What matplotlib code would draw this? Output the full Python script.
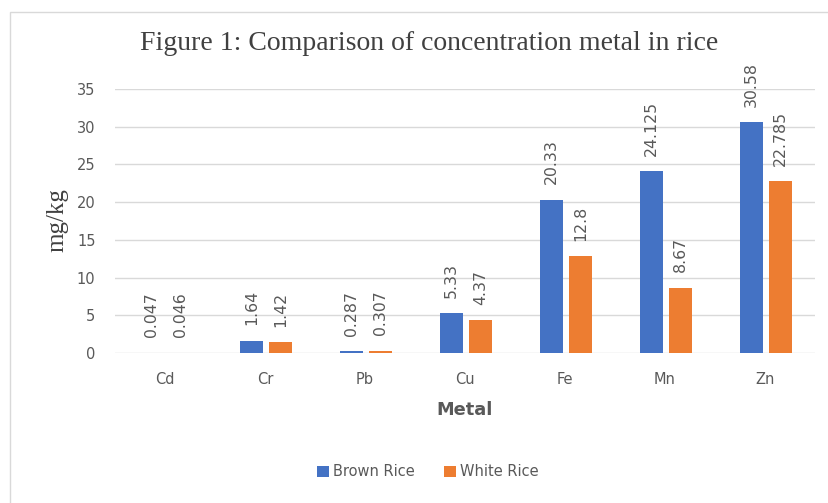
import numpy as np
import matplotlib.pyplot as plt
from matplotlib.patches import Rectangle

metals = ['Cd', 'Cr', 'Pb', 'Cu', 'Fe', 'Mn', 'Zn']
brown_rice = [0.047, 1.64, 0.287, 5.33, 20.33, 24.125, 30.58]
white_rice = [0.046, 1.42, 0.307, 4.37, 12.8, 8.67, 22.785]
brown_labels = ['0.047', '1.64', '0.287', '5.33', '20.33', '24.125', '30.58']
white_labels = ['0.046', '1.42', '0.307', '4.37', '12.8', '8.67', '22.785']

blue = '#4472C4'
orange = '#ED7D31'
grey_txt = '#595959'

fig = plt.figure(figsize=(8.29, 5.03), dpi=100)
fig.patches.append(Rectangle((10 / 829, -0.01), 1.0, 1 - 12 / 503 + 0.01,
                             transform=fig.transFigure, fill=False,
                             edgecolor='#d9d9d9', linewidth=1))

ax = fig.add_axes([115 / 829, 1 - 353 / 503, 700 / 829, 264 / 503])
x = np.arange(len(metals))
w = 0.23
b1 = ax.bar(x - 0.135, brown_rice, w, color=blue, label='Brown Rice')
b2 = ax.bar(x + 0.155, white_rice, w, color=orange, label='White Rice')

# rotated value labels above the bars
for bars, labels in [(b1, brown_labels), (b2, white_labels)]:
    for bar, lab in zip(bars, labels):
        ax.annotate(lab, (bar.get_x() + bar.get_width() / 2, bar.get_height()),
                    xytext=(0, 11), textcoords='offset points', rotation=90,
                    ha='center', va='bottom', fontsize=11.3, color=grey_txt,
                    annotation_clip=False)

ax.set_xlim(-0.5, len(metals) - 0.5)
ax.set_ylim(0, 35)
ax.set_yticks(range(0, 36, 5))
ax.set_xticks(x)
ax.set_xticklabels(metals)
ax.tick_params(axis='both', length=0, colors=grey_txt, labelsize=10.5)
ax.tick_params(axis='x', pad=14)
ax.tick_params(axis='y', pad=14)
ax.grid(axis='y', color='#d9d9d9', linewidth=1)
ax.set_axisbelow(True)
for s in ax.spines.values():
    s.set_visible(False)

ax.set_xlabel('Metal', fontsize=12.8, color=grey_txt, fontweight='bold', labelpad=10)
fig.text(57 / 829, 1 - 220 / 503, 'mg/kg', rotation=90, family='Liberation Serif',
         fontsize=18, color='#404040', ha='center', va='center')
fig.text(429 / 829, 1 - 43 / 503, 'Figure 1: Comparison of concentration metal in rice',
         family='Liberation Serif', fontsize=20, color='#404040',
         ha='center', va='center')

fig.legend(loc='center', bbox_to_anchor=(428 / 829, 1 - 472 / 503), ncol=2,
           frameon=False, fontsize=10.5, labelcolor=grey_txt,
           handlelength=0.8, handleheight=0.8, handletextpad=0.3, columnspacing=2.0)

fig.savefig('out.png', dpi=100)
